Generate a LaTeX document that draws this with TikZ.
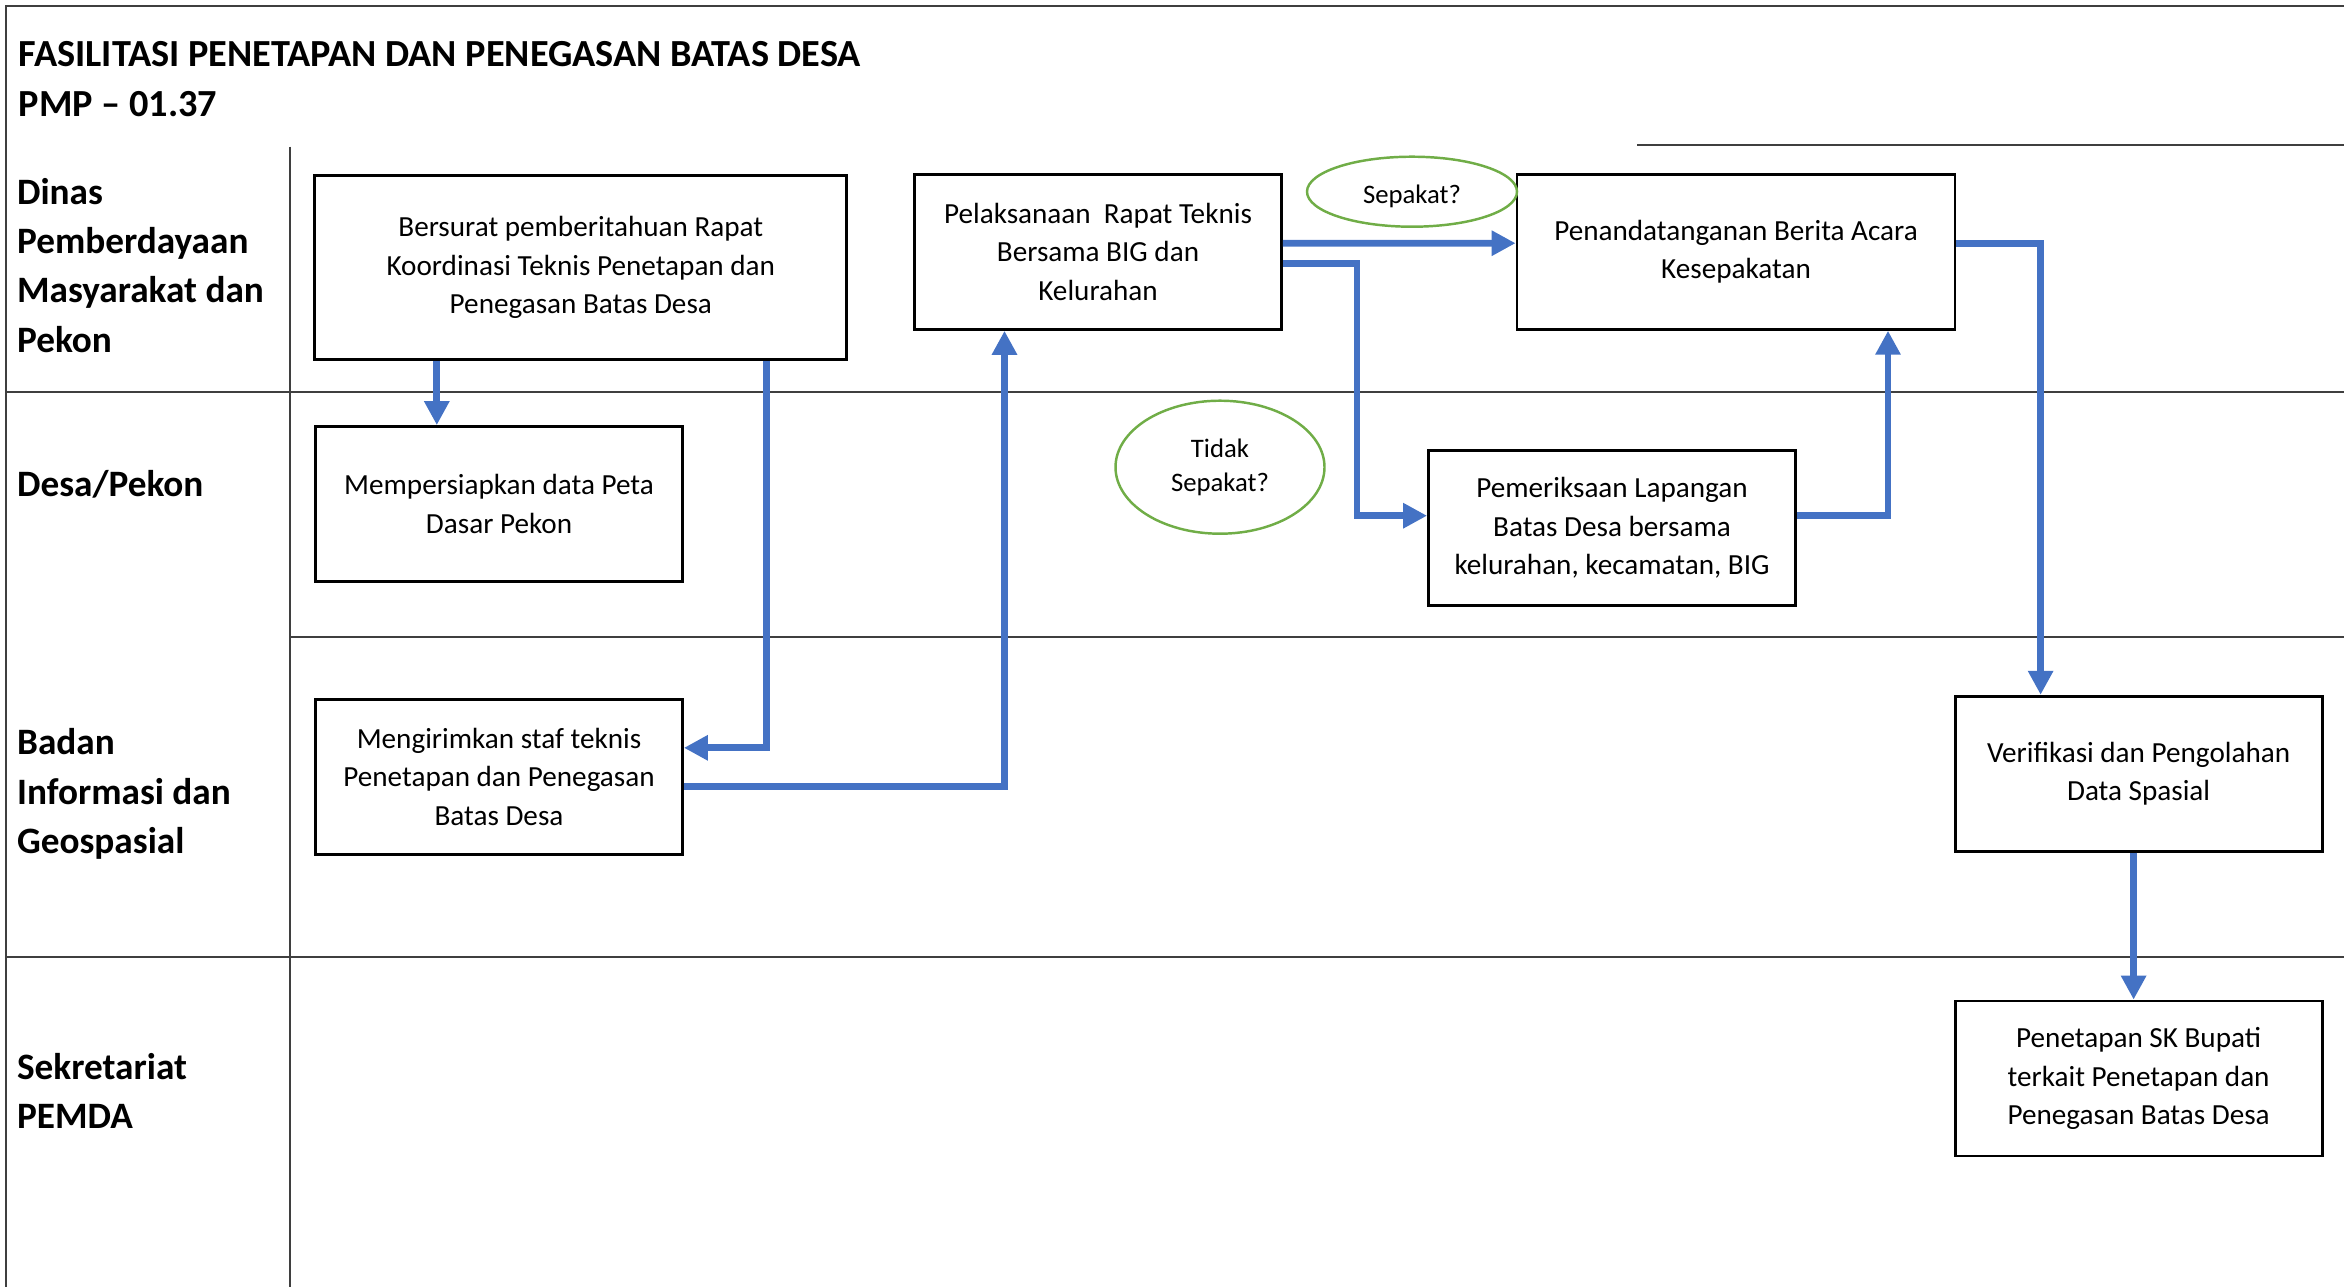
\documentclass[tikz,border=0pt]{standalone}
\usepackage{fontspec}
\setmainfont{Carlito}
\usepackage{tikz}
\usetikzlibrary{arrows.meta,positioning,calc,shapes.geometric}
\definecolor{flowblue}{HTML}{4472C4}
\definecolor{askgreen}{HTML}{70AD47}
\definecolor{lanegray}{HTML}{3F3F3F}
\tikzset{
  procbox/.style={
    draw=black,
    fill=white,
    line width=0.8pt,
    minimum width=3.67cm,
    minimum height=1.55cm,
    inner sep=0pt,
    align=center,
    font=\fontsize{8.3}{11}\selectfont
  },
  askoval/.style={
    ellipse,
    draw=askgreen,
    line width=0.7pt,
    minimum width=2.1cm,
    minimum height=0.7cm,
    inner sep=0pt,
    align=center,
    font=\fontsize{7.6}{9.7}\selectfont
  },
  lanelabel/.style={
    anchor=west,
    align=left,
    inner sep=0pt,
    font=\fontsize{10.6}{14}\selectfont\bfseries
  },
  laneline/.style={
    draw=lanegray,
    line width=0.6pt
  },
  arrow/.style={
    -{Triangle[length=2.4mm,width=2.4mm]},
    line width=1.9pt,
    draw=flowblue
  }
}

\begin{document}
\begin{tikzpicture}
\useasboundingbox (0,0) rectangle (23.44,-12.87);

% lanes
\draw[laneline] (23.44,-0.06) -- (0.06,-0.06) -- (0.06,-12.87);
\draw[laneline] (2.90,-1.465) -- (2.90,-12.87);
\draw[laneline] (16.37,-1.45) -- (23.44,-1.45);
\draw[laneline] (0.06,-3.917) -- (23.44,-3.917);
\draw[laneline] (2.90,-6.369) -- (23.44,-6.369);
\draw[laneline] (0.06,-9.568) -- (23.44,-9.568);

\node[lanelabel, font=\fontsize{10.9}{14.4}\selectfont\bfseries] (judul) at (0.18,-0.79) {FASILITASI PENETAPAN DAN PENEGASAN BATAS DESA\\PMP – 01.37};
\node[lanelabel] (dpmp) at (0.164,-2.654) {Dinas\\Pemberdayaan\\Masyarakat dan\\Pekon};
\node[lanelabel] (desa) at (0.164,-4.844) {Desa/Pekon};
\node[lanelabel] (big) at (0.164,-7.94) {Badan\\Informasi dan\\Geospasial};
\node[lanelabel] (pemda) at (0.164,-10.906) {Sekretariat\\PEMDA};

% steps
\node[procbox, minimum width=5.32cm, minimum height=1.84cm] (bersurat) at (5.808,-2.675) {Bersurat pemberitahuan Rapat\\Koordinasi Teknis Penetapan dan\\Penegasan Batas Desa};
\node[procbox] (peta) at (4.99,-5.04) {Mempersiapkan data Peta\\Dasar Pekon};
\node[procbox, below=1.15cm of peta] (kirim) {Mengirimkan staf teknis\\Penetapan dan Penegasan\\Batas Desa};
\node[procbox] (rapat) at (10.98,-2.519) {Pelaksanaan\ \ Rapat Teknis\\Bersama BIG dan\\Kelurahan};
\node[procbox, minimum width=4.38cm] (ttd) at (17.36,-2.518) {Penandatanganan Berita Acara\\Kesepakatan};
\node[procbox] (periksa) at (16.12,-5.28) {Pemeriksaan Lapangan\\Batas Desa bersama\\kelurahan, kecamatan, BIG};
\node[procbox] (verif) at (21.386,-7.737) {Verifikasi dan Pengolahan\\Data Spasial};
\node[procbox, below=1.47cm of verif] (sk) {Penetapan SK Bupati\\terkait Penetapan dan\\Penegasan Batas Desa};

\node[askoval, text height=3mm, text depth=0.6mm] (sepakat) at (14.12,-1.917) {Sepakat?};
\node[askoval, minimum width=2.09cm, minimum height=1.33cm] (tidak) at (12.2,-4.672) {Tidak\\Sepakat?};

% flow
\draw[arrow] ([xshift=-14.4mm]bersurat.south) -- ([xshift=-14.4mm]bersurat.south |- peta.north);
\draw[arrow] ([xshift=18.6mm]bersurat.south) |- ([yshift=2.9mm]kirim.east);
\draw[arrow] ([yshift=-1mm]kirim.east) -| ([xshift=-9.35mm]rapat.south);
\draw[arrow] ([yshift=0.86mm]rapat.east) -- ([yshift=0.86mm]ttd.west);
\draw[arrow] ([yshift=-1.14mm]rapat.east) -- ++(0.74,0) |- ([yshift=1.23mm]periksa.west);
\draw[arrow] ([yshift=1.23mm]periksa.east) -| ([xshift=15.2mm]ttd.south);
\draw[arrow] ([yshift=0.86mm]ttd.east) -| ([xshift=-9.8mm]verif.north);
\draw[arrow] ([xshift=-0.5mm]verif.south) -- ([xshift=-0.5mm]verif.south |- sk.north);
\end{tikzpicture}
\end{document}
